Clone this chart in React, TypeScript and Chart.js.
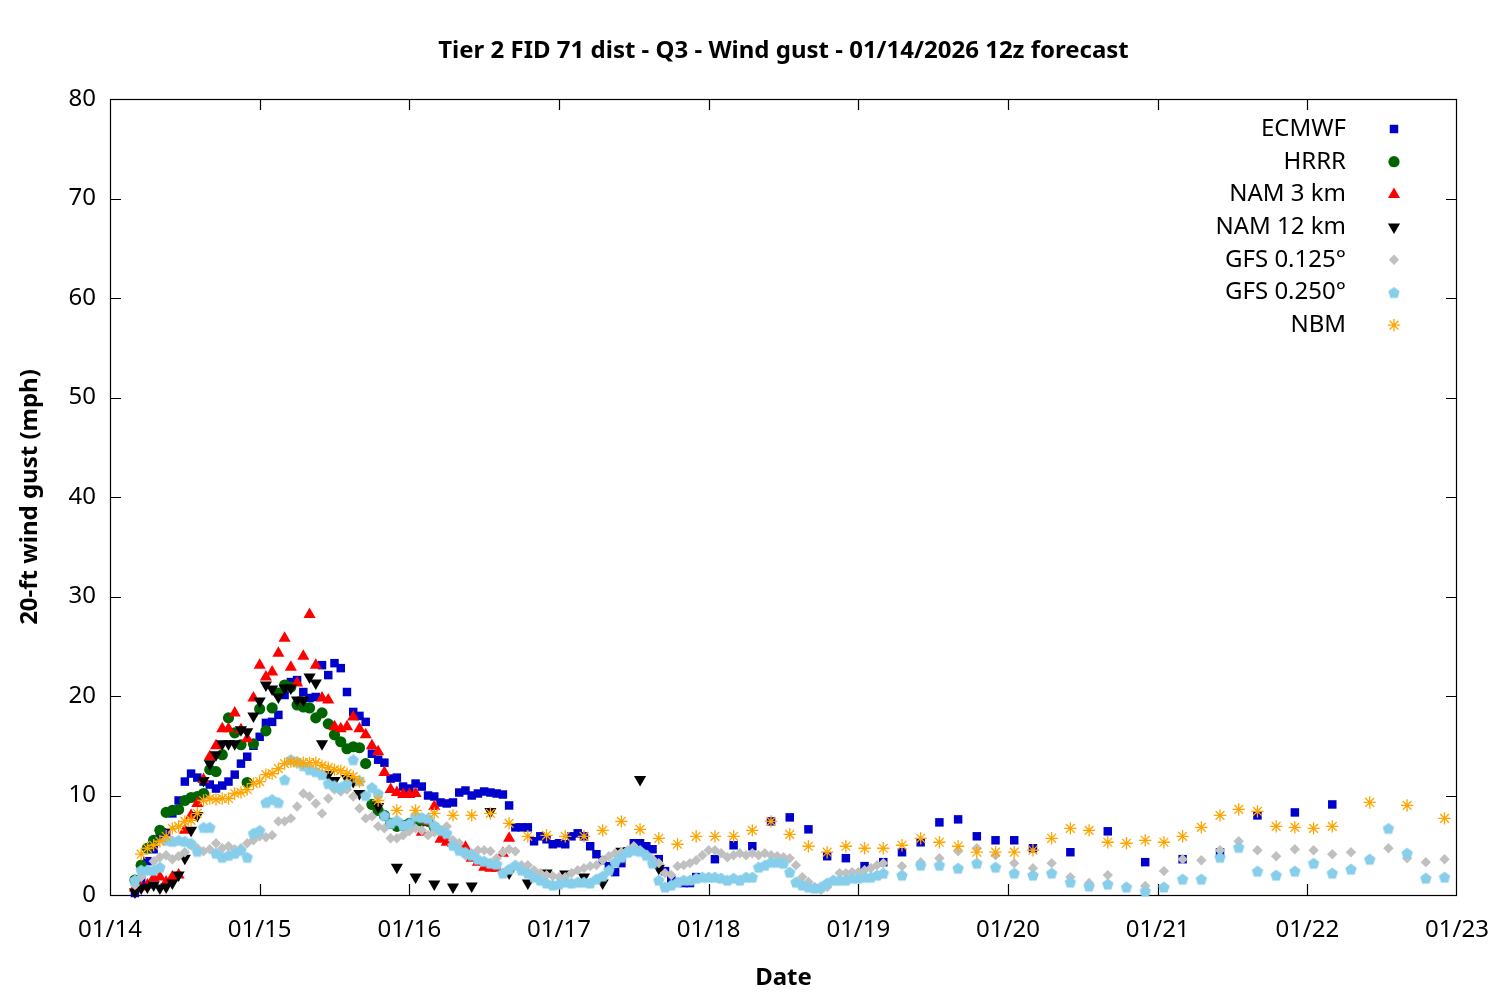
import React, { useEffect, useRef } from 'react';
import { Chart, registerables } from 'chart.js';

Chart.register(...registerables);

// ---------- text ----------
const TITLE = 'Tier 2 FID 71 dist - Q3 - Wind gust - 01/14/2026 12z forecast';
const X_TITLE = 'Date';
const Y_TITLE = '20-ft wind gust (mph)';
const DAY_LABELS = ['01/14', '01/15', '01/16', '01/17', '01/18', '01/19', '01/20', '01/21', '01/22', '01/23'];
const HOURS_PER_DAY = 24;
const Y_MIN = 0;
const Y_MAX = 80;
const Y_STEP = 10;
const SERIES_NAMES = ['ECMWF', 'HRRR', 'NAM 3 km', 'NAM 12 km', 'GFS 0.125°', 'GFS 0.250°', 'NBM'];

// ---------- data (hours since 01/14 00:00 local) ----------
const ECMWF_1H_START = 4;
const ECMWF_1H = [
  0.2, 1.5, 3.4, 4.6, 5.9, 6.3, 8.2, 9.5, 11.4, 12.2,
  11.8, 11.4, 11.1, 10.7, 11.0, 11.4, 12.1, 13.2, 13.9, 15.0,
  15.9, 17.3, 17.4, 18.1, 20.1, 21.4, 21.6, 20.4, 19.8, 19.9,
  23.1, 22.1, 23.3, 22.8, 20.4, 18.4, 18.0, 17.4, 14.2, 13.6,
  13.3, 11.7, 11.8, 10.9, 10.7, 11.2, 10.9, 10.0, 9.9, 9.3,
  9.2, 9.3, 10.3, 10.5, 10.0, 10.2, 10.4, 10.3, 10.2, 10.1,
  9.0, 6.8, 6.8, 6.8, 5.4, 5.9, 5.6, 5.1, 5.2, 5.1,
  5.9, 6.2, 5.9, 4.9, 4.1, 3.5, 2.9, 2.3, 3.2, 4.4,
  5.2, 5.2, 4.9, 4.6, 3.6, 2.4, 1.5, 1.3, 1.2, 1.2,
  1.8,
];
const ECMWF_3H_START = 97;
const ECMWF_3H = [3.6, 5.0, 4.9, 7.4, 7.8, 6.6, 3.9, 3.7, 2.9, 3.3, 4.3, 5.3, 7.3, 7.6, 5.9, 5.5, 5.5, 4.7];
const ECMWF_6H_START = 154;
const ECMWF_6H = [4.3, 6.4, 3.3, 3.6, 4.3, 8.0, 8.3, 9.1];

const HRRR_1H_START = 4;
const HRRR_1H = [
  1.5, 3.0, 4.7, 5.5, 6.5, 8.3, 8.5, 8.6, 9.5, 9.8,
  9.9, 10.2, 12.6, 12.4, 14.1, 17.8, 16.3, 15.1, 11.3, 15.2,
  18.7, 16.5, 18.8, 20.3, 21.1, 20.9, 19.1, 18.9, 18.8, 17.8,
  18.3, 17.2, 16.1, 15.4, 14.7, 14.9, 14.8, 13.2, 9.1, 8.5,
  8.0, 7.2, 6.9, 7.0, 7.2, 7.4, 7.4, 7.4, 6.8,
];

const NAM3_1H_START = 4;
const NAM3_1H = [
  0.7, 0.8, 1.0, 1.7, 1.8, 1.3, 1.8, 2.0, 6.5, 8.0,
  9.2, 11.6, 13.9, 15.0, 16.7, 16.7, 18.3, 16.6, 15.7, 19.8,
  23.1, 21.9, 22.4, 24.3, 25.8, 22.9, 21.3, 24.0, 28.2, 23.1,
  19.8, 19.6, 16.9, 16.7, 16.9, 17.9, 16.7, 16.1, 15.0, 14.4,
  12.3, 10.6, 10.3, 10.1, 10.1, 10.2, 6.3, 7.4, 8.9, 5.6,
  5.3, 5.2, 5.0, 4.8, 3.7, 3.3, 2.8, 2.7, 2.7, 4.2,
  5.7,
];

const NAM12_1H_START = 4;
const NAM12_1H = [
  0.3, 0.7, 0.8, 1.0, 0.7, 0.8, 1.2, 2.0, 3.7, 6.5,
  8.0, 11.5, 13.2, 14.1, 15.2, 15.2, 15.2, 16.6, 16.4, 18.0,
  19.5, 21.1, 20.7, 19.9, 20.8, 20.8, 19.6, 19.6, 21.9, 21.3,
  15.2, 12.1, 11.5, 10.8, 11.7, 11.4, 10.2,
];
const NAM12_3H_START = 43;
const NAM12_3H = [8.9, 2.8, 1.8, 1.1, 0.8, 0.9, 8.4, 2.2, 1.2, 2.2, 2.1, 1.8, 1.2, 4.4, 11.6, 2.7];

const GFS125_1H_START = 4;
const GFS125_1H = [
  1.0, 1.8, 2.5, 3.4, 3.8, 4.0, 3.6, 3.9, 4.3, 5.0,
  4.7, 4.4, 4.6, 5.2, 4.7, 4.9, 4.6, 4.7, 5.2, 5.5,
  5.9, 5.8, 6.0, 7.4, 7.4, 7.7, 8.9, 10.2, 9.9, 9.2,
  8.2, 9.7, 10.6, 10.4, 10.6, 9.9, 8.7, 7.7, 7.9, 6.9,
  6.7, 5.7, 5.7, 6.0, 6.4, 6.7, 6.5, 6.0, 6.3, 6.5,
  6.9, 5.5, 5.2, 4.0, 4.2, 4.5, 4.5, 4.4, 3.7, 4.3,
  4.6, 4.4, 3.0, 3.0, 2.5, 2.2, 2.0, 1.9, 1.8, 1.8,
  2.2, 2.5, 2.7, 2.9, 3.0, 3.5, 3.9, 4.2, 4.3, 4.5,
  4.9, 4.5, 4.0, 3.6, 3.2, 2.2, 2.0, 2.9, 3.0, 3.2,
  3.5, 4.0, 4.5, 4.5, 4.2, 3.8, 4.0, 4.2, 4.0, 4.2,
  4.0, 4.2, 4.0, 3.9, 3.8, 3.7, 3.0, 1.8, 1.3, 0.8,
  0.5, 0.8, 1.5, 2.2, 2.2, 2.3, 2.3, 2.5, 2.7, 3.0,
  3.2,
];
const GFS125_3H_START = 127;
const GFS125_3H = [
  2.9, 3.3, 3.7, 4.4, 4.7, 4.0, 3.2, 2.7, 3.2, 1.8,
  1.2, 2.0, 0.8, 0.9, 2.4, 3.6, 3.5, 4.5, 5.4, 4.5,
  3.9, 4.6, 4.5, 4.1, 4.3, 3.6, 4.7, 3.7, 3.3, 3.6,
];

const GFS250_1H_START = 4;
const GFS250_1H = [
  1.5, 2.5, 2.5, 2.5, 2.8, 5.5, 5.4, 5.5, 5.4, 5.2,
  4.4, 6.8, 6.8, 4.2, 3.8, 4.0, 4.2, 4.5, 3.8, 6.2,
  6.5, 9.3, 9.6, 9.3, 11.6, 13.6, 13.4, 13.0, 12.6, 12.4,
  12.1, 11.2, 11.0, 10.8, 11.2, 13.6, 11.5, 10.0, 10.8, 10.2,
  8.0, 7.2, 7.5, 7.0, 7.2, 7.9, 7.8, 7.7, 7.0, 6.5,
  6.2, 5.0, 4.5, 4.3, 4.0, 3.6, 3.4, 3.2, 3.1, 2.2,
  2.6, 3.0, 2.5, 2.2, 1.8, 1.5, 1.2, 1.0, 1.1, 1.3,
  1.2, 1.3, 1.3, 1.2, 1.6, 1.9, 2.5, 3.3, 3.8, 4.3,
  4.5, 4.4, 4.0, 3.2, 1.5, 0.8, 1.0, 1.3, 1.5, 1.5,
  1.7, 1.8, 1.8, 1.8, 1.7, 1.5, 1.7, 1.5, 1.8, 1.8,
  2.8, 3.0, 3.3, 3.3, 3.2, 2.3, 1.3, 1.0, 0.8, 0.7,
  0.8, 1.2, 1.5, 1.5, 1.5, 1.7, 1.7, 1.8, 1.8, 2.0,
  2.2,
];
const GFS250_3H_START = 127;
const GFS250_3H = [
  2.0, 3.0, 3.0, 2.7, 3.2, 2.8, 2.2, 2.0, 2.2, 1.3,
  0.9, 1.1, 0.8, 0.4, 0.8, 1.6, 1.6, 3.8, 4.8, 2.4,
  2.0, 2.4, 3.2, 2.2, 2.6, 3.6, 6.7, 4.2, 1.7, 1.8,
];

const NBM_1H_START = 5;
const NBM_1H = [
  4.1, 4.7, 5.0, 5.4, 5.9, 6.7, 6.9, 7.4, 7.5, 8.2,
  9.5, 9.7, 9.6, 9.7, 9.7, 10.2, 10.3, 10.6, 11.2, 11.4,
  12.1, 12.2, 12.7, 13.2, 13.4, 13.3, 13.3, 13.3, 13.3, 13.0,
  12.8, 12.6, 12.5, 12.2, 11.9, 11.4,
];
const NBM_3H_START = 43;
const NBM_3H = [
  9.5, 8.5, 8.5, 8.2, 8.0, 8.0, 8.2, 7.2, 5.9, 6.0,
  5.9, 5.9, 6.5, 7.4, 6.6, 5.7, 5.1, 5.9, 5.9, 5.9,
  6.5, 7.4, 6.1, 4.9, 4.3, 4.9, 4.7, 4.7, 5.0, 5.7,
  5.3, 4.9, 4.3, 4.3, 4.3, 4.5, 5.7, 6.7, 6.5, 5.3,
  5.2, 5.5, 5.3, 5.9, 6.8, 8.0, 8.6, 8.4, 6.9, 6.8,
  6.7, 6.9,
];
const NBM_6H_START = 202;
const NBM_6H = [9.3, 9.0, 7.7];

type Pt = { x: number; y: number };
function seg(start: number, step: number, values: number[]): Pt[] {
  return values.map((v, i) => ({ x: start + i * step, y: v }));
}

const SERIES: Pt[][] = [
  [...seg(ECMWF_1H_START, 1, ECMWF_1H), ...seg(ECMWF_3H_START, 3, ECMWF_3H), ...seg(ECMWF_6H_START, 6, ECMWF_6H)],
  seg(HRRR_1H_START, 1, HRRR_1H),
  seg(NAM3_1H_START, 1, NAM3_1H),
  [...seg(NAM12_1H_START, 1, NAM12_1H), ...seg(NAM12_3H_START, 3, NAM12_3H)],
  [...seg(GFS125_1H_START, 1, GFS125_1H), ...seg(GFS125_3H_START, 3, GFS125_3H)],
  [...seg(GFS250_1H_START, 1, GFS250_1H), ...seg(GFS250_3H_START, 3, GFS250_3H)],
  [...seg(NBM_1H_START, 1, NBM_1H), ...seg(NBM_3H_START, 3, NBM_3H), ...seg(NBM_6H_START, 6, NBM_6H)],
];

// ---------- styles ----------
const FONT = '"Noto Sans", "Open Sans", "DejaVu Sans", sans-serif';
const FONT_SIZE = 24;
type Kind = 'square' | 'circle' | 'triUp' | 'triDown' | 'diamond' | 'pentagon' | 'star';
const STYLES: { kind: Kind; color: string; radius: number }[] = [
  { kind: 'square', color: '#0000cc', radius: 6 },
  { kind: 'circle', color: '#006400', radius: 5.6 },
  { kind: 'triUp', color: '#ff0000', radius: 7 },
  { kind: 'triDown', color: '#000000', radius: 7 },
  { kind: 'diamond', color: '#c0c0c0', radius: 5.2 },
  { kind: 'pentagon', color: '#87ceeb', radius: 6 },
  { kind: 'star', color: '#ffa500', radius: 6.2 },
];

const CANVAS_W = 1500;
const CANVAS_H = 1000;
const PAD_TOP = 99;
const PAD_RIGHT = 43;
const X_AXIS_H = 105;
const Y_AXIS_W = 110;
const TICK_LEN = 11;

function makePentagon(r: number, color: string): HTMLCanvasElement {
  const size = Math.ceil(2 * r + 2);
  const c = document.createElement('canvas');
  c.width = size;
  c.height = size;
  const ctx = c.getContext('2d')!;
  ctx.fillStyle = color;
  ctx.beginPath();
  const cx = size / 2;
  const cy = size / 2 + r * 0.1;
  for (let i = 0; i < 5; i++) {
    const a = -Math.PI / 2 + (i * 2 * Math.PI) / 5;
    const px = cx + r * Math.cos(a);
    const py = cy + r * Math.sin(a);
    if (i === 0) ctx.moveTo(px, py);
    else ctx.lineTo(px, py);
  }
  ctx.closePath();
  ctx.fill();
  return c;
}

function drawMarker(ctx: CanvasRenderingContext2D, kind: Kind, color: string, r: number, x: number, y: number, pent: HTMLCanvasElement) {
  ctx.save();
  ctx.fillStyle = color;
  ctx.strokeStyle = color;
  ctx.beginPath();
  switch (kind) {
    case 'square': {
      const s = Math.SQRT1_2 * r;
      ctx.rect(x - s, y - s, 2 * s, 2 * s);
      ctx.fill();
      break;
    }
    case 'circle':
      ctx.arc(x, y, r, 0, Math.PI * 2);
      ctx.fill();
      break;
    case 'triUp':
    case 'triDown': {
      const sgn = kind === 'triUp' ? 1 : -1;
      for (let i = 0; i < 3; i++) {
        const a = (i * 2 * Math.PI) / 3;
        const px = x + Math.sin(a) * r;
        const py = y - sgn * Math.cos(a) * r;
        if (i === 0) ctx.moveTo(px, py);
        else ctx.lineTo(px, py);
      }
      ctx.closePath();
      ctx.fill();
      break;
    }
    case 'diamond':
      ctx.moveTo(x - r, y);
      ctx.lineTo(x, y - r);
      ctx.lineTo(x + r, y);
      ctx.lineTo(x, y + r);
      ctx.closePath();
      ctx.fill();
      break;
    case 'pentagon':
      ctx.drawImage(pent, x - pent.width / 2, y - pent.height / 2);
      break;
    case 'star': {
      ctx.lineWidth = 1.3;
      ctx.moveTo(x - r, y);
      ctx.lineTo(x + r, y);
      ctx.moveTo(x, y - r);
      ctx.lineTo(x, y + r);
      const d = r * Math.SQRT1_2;
      ctx.moveTo(x - d, y - d);
      ctx.lineTo(x + d, y + d);
      ctx.moveTo(x - d, y + d);
      ctx.lineTo(x + d, y - d);
      ctx.stroke();
      break;
    }
  }
  ctx.restore();
}

export default function App() {
  const ref = useRef<HTMLCanvasElement>(null);

  useEffect(() => {
    const canvas = ref.current;
    if (!canvas) return;
    const pent = makePentagon(STYLES[5].radius, STYLES[5].color);

    const datasets = SERIES.map((data, i) => {
      const st = STYLES[i];
      let pointStyle: any = 'circle';
      let rotation = 0;
      let borderWidth = 0;
      if (st.kind === 'square') pointStyle = 'rect';
      else if (st.kind === 'triUp') pointStyle = 'triangle';
      else if (st.kind === 'triDown') { pointStyle = 'triangle'; rotation = 180; }
      else if (st.kind === 'diamond') pointStyle = 'rectRot';
      else if (st.kind === 'pentagon') pointStyle = pent;
      else if (st.kind === 'star') { pointStyle = 'star'; borderWidth = 1.3; }
      return {
        label: SERIES_NAMES[i],
        data,
        showLine: false,
        clip: false as const,
        order: SERIES.length - i,
        pointStyle,
        pointRotation: rotation,
        pointRadius: st.radius,
        pointHoverRadius: st.radius,
        pointBackgroundColor: st.color,
        pointBorderColor: st.color,
        backgroundColor: st.color,
        borderColor: st.color,
        pointBorderWidth: borderWidth,
        pointHoverBorderWidth: borderWidth,
      };
    });

    const overlay = {
      id: 'gnuplotOverlay',
      beforeDatasetsDraw(chart: any) {
        const { ctx, chartArea } = chart;
        const { left, right, top, bottom } = chartArea;
        const xs = chart.scales.x;
        const ys = chart.scales.y;
        ctx.save();
        ctx.strokeStyle = '#000';
        ctx.lineWidth = 1.2;
        ctx.beginPath();
        for (let i = 1; i < DAY_LABELS.length - 1; i++) {
          const px = Math.round(xs.getPixelForValue(i * HOURS_PER_DAY)) + 0.5;
          ctx.moveTo(px, bottom);
          ctx.lineTo(px, bottom - TICK_LEN);
          ctx.moveTo(px, top);
          ctx.lineTo(px, top + TICK_LEN);
        }
        for (let v = Y_MIN + Y_STEP; v < Y_MAX; v += Y_STEP) {
          const py = Math.round(ys.getPixelForValue(v)) + 0.5;
          ctx.moveTo(left, py);
          ctx.lineTo(left + TICK_LEN, py);
          ctx.moveTo(right, py);
          ctx.lineTo(right - TICK_LEN, py);
        }
        ctx.stroke();
        ctx.strokeRect(left + 0.5, top + 0.5, right - left - 1, bottom - top);
        ctx.restore();
      },
      afterDraw(chart: any) {
        const { ctx, chartArea } = chart;
        const { left, right, top, bottom } = chartArea;
        const cx = (left + right) / 2;
        ctx.save();
        ctx.fillStyle = '#000';
        ctx.textAlign = 'center';
        ctx.textBaseline = 'middle';
        ctx.font = `bold ${FONT_SIZE}px ${FONT}`;
        ctx.fillText(TITLE, cx, 51);
        ctx.fillText(X_TITLE, cx, 978);
        ctx.save();
        ctx.translate(30, (top + bottom) / 2);
        ctx.rotate(-Math.PI / 2);
        ctx.fillText(Y_TITLE, 0, 0);
        ctx.restore();

        // legend
        ctx.font = `${FONT_SIZE}px ${FONT}`;
        ctx.textAlign = 'right';
        for (let i = 0; i < SERIES_NAMES.length; i++) {
          const y = 129 + i * 32.7;
          ctx.fillStyle = '#000';
          ctx.fillText(SERIES_NAMES[i], 1346, y);
          const st = STYLES[i];
          drawMarker(ctx, st.kind, st.color, st.radius, 1394, y, pent);
        }
        ctx.restore();
      },
    };

    const chart = new Chart(canvas, {
      type: 'scatter',
      data: { datasets: datasets as any },
      options: {
        animation: false,
        responsive: false,
        devicePixelRatio: 1,
        events: [],
        layout: { padding: { top: PAD_TOP, right: PAD_RIGHT, left: 0, bottom: 0 } },
        plugins: {
          legend: { display: false },
          title: { display: false },
          tooltip: { enabled: false },
        },
        scales: {
          x: {
            type: 'linear',
            min: 0,
            max: (DAY_LABELS.length - 1) * HOURS_PER_DAY,
            afterFit: (s: any) => { s.height = X_AXIS_H; s.paddingLeft = 0; s.paddingRight = 0; },
            afterBuildTicks: (s: any) => {
              s.ticks = DAY_LABELS.map((_, i) => ({ value: i * HOURS_PER_DAY }));
            },
            ticks: {
              autoSkip: false,
              maxRotation: 0,
              padding: 21,
              color: '#000',
              font: { family: FONT, size: FONT_SIZE },
              callback: (v: any) => DAY_LABELS[Math.round(Number(v) / HOURS_PER_DAY)],
            },
            grid: { display: false, drawTicks: false },
            border: { display: false },
          },
          y: {
            type: 'linear',
            min: Y_MIN,
            max: Y_MAX,
            afterFit: (s: any) => { s.width = Y_AXIS_W; s.paddingTop = 0; s.paddingBottom = 0; },
            ticks: {
              stepSize: Y_STEP,
              padding: 14,
              color: '#000',
              font: { family: FONT, size: FONT_SIZE },
            },
            grid: { display: false, drawTicks: false },
            border: { display: false },
          },
        },
      },
      plugins: [overlay],
    });

    return () => chart.destroy();
  }, []);

  return (
    <div style={{ position: 'fixed', left: 0, top: 0, width: CANVAS_W, height: CANVAS_H, background: '#fff' }}>
      <canvas ref={ref} width={CANVAS_W} height={CANVAS_H} style={{ display: 'block', width: CANVAS_W, height: CANVAS_H }} />
    </div>
  );
}
